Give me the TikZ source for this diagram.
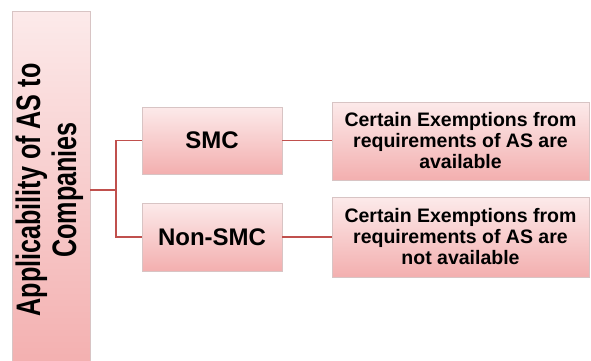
\documentclass[tikz,border=0pt]{standalone}
\usepackage{fontspec}
\setmainfont{Liberation Sans}
\usetikzlibrary{shadows}
\definecolor{boxtop}{HTML}{FCEAEA}
\definecolor{boxbot}{HTML}{F3AFAF}
\definecolor{boxline}{HTML}{D8C4C4}
\definecolor{conncol}{HTML}{C0504D}
\tikzset{
  box/.style={draw=boxline, line width=0.6pt, top color=boxtop, bottom color=boxbot,
    inner sep=0pt, align=center, font=\bfseries,
    drop shadow={opacity=0.18, shadow xshift=1pt, shadow yshift=-1pt}},
  conn/.style={draw=conncol, line width=1.4pt},
}
\begin{document}
\begin{tikzpicture}[x=1pt,y=1pt]
\useasboundingbox (0,0) rectangle (591,360);
\clip (0,0) rectangle (591,360);
\fill[white] (0,0) rectangle (591,360);
\node[box, minimum width=78, minimum height=358] (L) at (51,170) {};
\node[rotate=90, inner sep=0pt] (Lt) at (51,170)
  {\scalebox{0.74}[1]{\fontsize{34}{36}\selectfont\bfseries\begin{tabular}{@{}c@{}}Applicability of AS to\\Companies\end{tabular}}};
\node[box, minimum width=140, minimum height=67, font=\fontsize{24}{26}\selectfont\bfseries] (S) at (212,219.5) {SMC};
\node[box, minimum width=140, minimum height=68, font=\fontsize{24}{26}\selectfont\bfseries] (N) at (212,123) {Non-SMC};
\node[box, minimum width=257, minimum height=78, font=\fontsize{19.5}{21}\selectfont\bfseries] (R1) at (460.5,219)
  {Certain Exemptions from\\requirements of AS are\\available};
\node[box, minimum width=257, minimum height=80, font=\fontsize{19.5}{21}\selectfont\bfseries] (R2) at (460.5,123)
  {Certain Exemptions from\\requirements of AS are\\not available};
\coordinate (j) at (116,170);
\draw[conn] (L.east |- j) -- (j);
\draw[conn] (S.west) -| (j) |- (N.west);
\draw[conn] (S.east) -- (S.east -| R1.west);
\draw[conn] (N.east) -- (N.east -| R2.west);
\end{tikzpicture}
\end{document}
